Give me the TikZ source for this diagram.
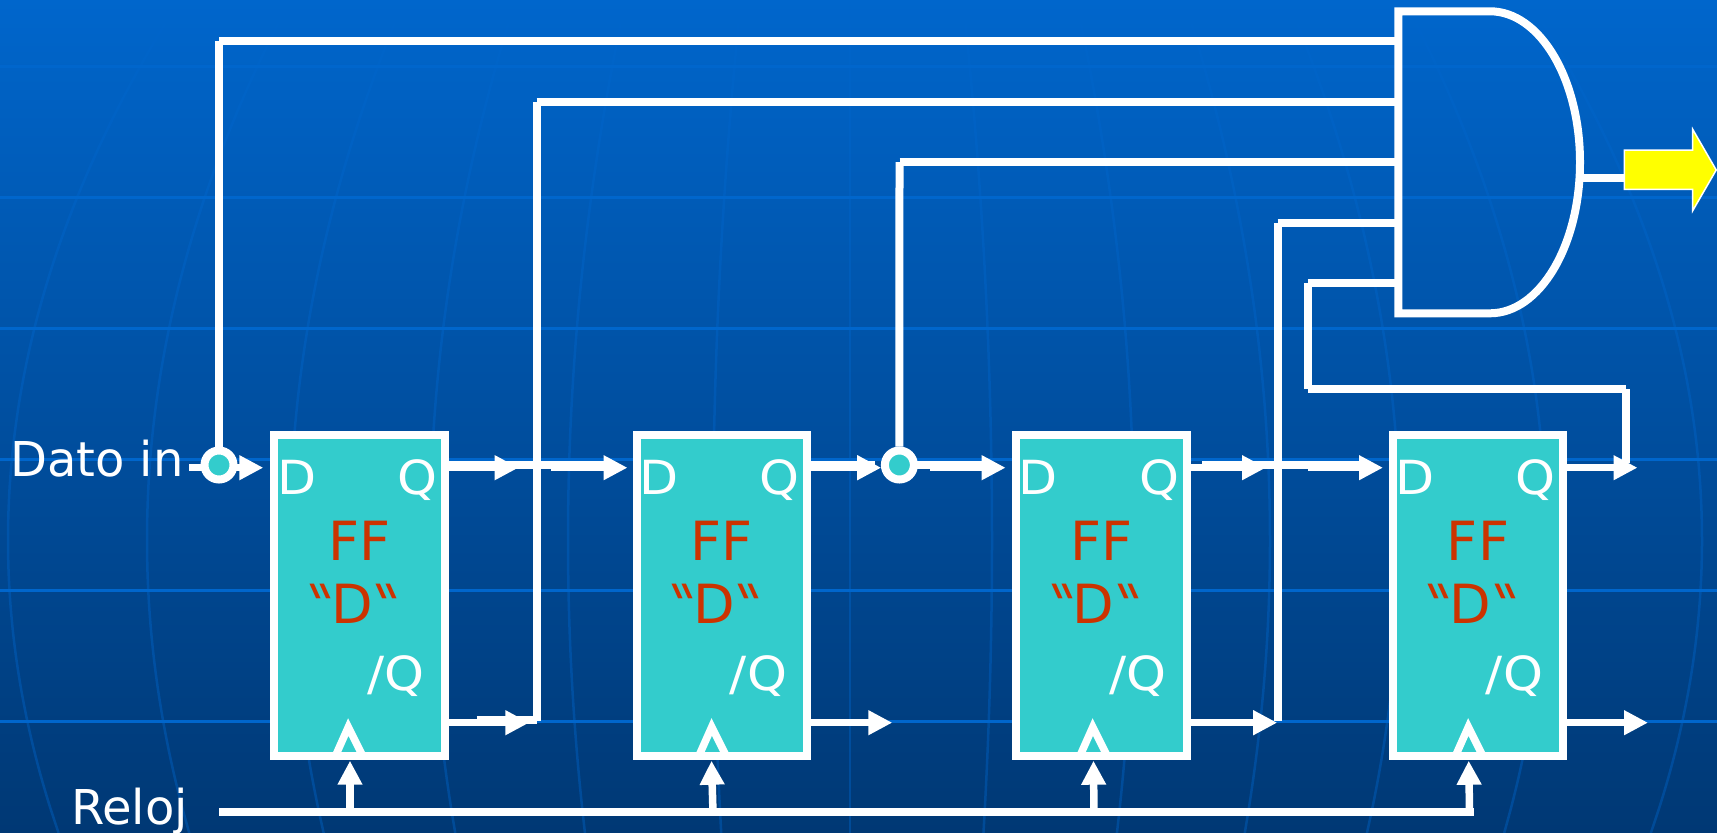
\documentclass[tikz,border=0pt]{standalone}
\usepackage{fontspec}
\setmainfont{DejaVu Sans}
\newfontfamily\pinfont[FakeStretch=1.08]{DejaVu Sans}
\newfontfamily\tickfont[FakeSlant=-0.45]{DejaVu Sans}
\newcommand{\tick}{\kern 16pt{\tickfont"}\kern -16pt}
\usetikzlibrary{arrows.meta}
\definecolor{topblue}{HTML}{0066CC}
\definecolor{midblue}{HTML}{0054A8}
\definecolor{lowblue}{HTML}{003874}
\definecolor{fftealcol}{HTML}{33CCCC}
\definecolor{ffredcol}{HTML}{CC3300}
\definecolor{outyellow}{RGB}{255,255,0}
\tikzset{
  wire/.style={draw=white,line width=8pt},
  wirearrow/.style={draw=white,fill=white,line width=7.5pt,-{Triangle[length=24pt,width=23.4pt]}},
  ffbox/.style={draw=white,fill=fftealcol,line width=8pt,minimum width=170.5pt,minimum height=321.3pt,inner sep=0pt},
  junct/.style={circle,draw=white,fill=fftealcol,line width=8pt,minimum size=29pt,inner sep=0pt},
  pin/.style={anchor=base west,inner sep=0pt,text=white,font=\fontsize{47}{50}\pinfont},
  txtlab/.style={anchor=base west,inner sep=0pt,text=white,font=\fontsize{48}{50}\selectfont},
  fftext/.style={anchor=base,inner sep=0pt,text=ffredcol,font=\fontsize{54}{56}\selectfont}
}
\begin{document}
\begin{tikzpicture}[x=1pt,y=-1pt]
\useasboundingbox (0,0) rectangle (1717,833);
\shade [top color=topblue,middle color=midblue,bottom color=lowblue] (0,0) rectangle (1717,833);
%
\foreach \yl in {66.7,197.3,328.3,459.3,590,721}
  \draw [topblue,line width=3pt] (0,\yl) -- (1717,\yl);
\foreach \xo in {8,147,290,430,568,713,850,992,1134,1270,1400,1546,1702}
  \draw [topblue,opacity=0.4,line width=2.5pt] plot [domain=0:833,samples=30,smooth] ({850+(\xo-850)*(1-0.175*((\x-540)/500)^2)},\x);
%
\foreach \i/\xa in {1/274.4,2/636.7,3/1016.2,4/1392.7} {
  \node [ffbox] (ff\i) at ({\xa+85.25},595.35) {};
  \node [pin] (d\i) at ({\xa+2.5},494.3) {D};
  \node [pin] (q\i) at ({\xa+123},494.3) {Q};
  \node [pin] (nq\i) at ({\xa+93},690) {/Q};
  \node [fftext] (ffa\i) at ({\xa+85.3},560) {FF};
  \node [fftext] (ffb\i) at ({\xa+77.5},623) {\tick D\tick};
  \coordinate (qo\i) at ({\xa+174.3},467.7);
  \coordinate (nqo\i) at ({\xa+174.3},722.7);
}
%
\node [txtlab] (datoin) at (10,476) {Dato in};
\node [txtlab] (reloj) at (71,824) {Reloj};
\node [junct] (j1) at (219,465) {};
\node [junct] (j2) at (899.4,465) {};
%
\coordinate (t1) at (219,41);
\coordinate (g1) at (1398.3,41);
\coordinate (e2) at (536.5,721);
\coordinate (t2) at (536.5,101.5);
\coordinate (g2) at (1398.3,101.5);
\coordinate (t3) at (899.5,162);
\coordinate (g3) at (1398.3,162);
\coordinate (e4) at (1277.5,721);
\coordinate (t4) at (1277.5,222.5);
\coordinate (g4) at (1398.3,222.5);
\coordinate (e5) at (1625.5,463);
\coordinate (c5) at (1625.5,389.2);
\coordinate (b5) at (1307.8,389.2);
\coordinate (t5) at (1307.8,283);
\coordinate (g5) at (1398.3,283);
%
\draw [wire] (j1.north) edge (t1);
\draw [wire] (t1) edge (g1);
\draw [wire] (e2) edge (t2);
\draw [wire] (t2) edge (g2);
\draw [wire] (j2.north) edge (t3);
\draw [wire] (t3) edge (g3);
\draw [wire] (e4) edge (t4);
\draw [wire] (t4) edge (g4);
\draw [wire] (e5) edge (c5);
\draw [wire] (c5) edge (b5);
\draw [wire] (b5) edge (t5);
\draw [wire] (t5) edge (g5);
%
\coordinate (din) at (189,467.7);
\coordinate (jin) at (205,467.7);
\coordinate (jout) at (236,467.7);
\coordinate (dtip) at (263.3,467.7);
\coordinate (b1a) at (449,464.7);
\coordinate (b1b) at (612,464.7);
\coordinate (a1) at (551,467.7);
\coordinate (tip1) at (518.6,467.7);
\coordinate (tip2) at (627.5,467.7);
\coordinate (b2a) at (811,464.7);
\coordinate (b2b) at (875,464.7);
\coordinate (tip3) at (881.2,467.7);
\coordinate (b3a) at (916,464.7);
\coordinate (b3b) at (990,464.7);
\coordinate (a3) at (930,467.7);
\coordinate (tip4) at (1005.6,467.7);
\coordinate (b5a) at (1202,464.7);
\coordinate (b5b) at (1368,464.7);
\coordinate (a5) at (1308,467.7);
\coordinate (tip5) at (1266,467.7);
\coordinate (tip6) at (1383,467.7);
\coordinate (tip7) at (1637.5,467.7);
%
\draw [wire,line width=7.5pt] (din) edge (jin);
\draw [wirearrow] (jout) -- (dtip);
\draw [wire] (b1a) edge (b1b);
\draw [wirearrow] (qo1) -- (tip1);
\draw [wirearrow] (a1) -- (tip2);
\draw [wire] (b2a) edge (b2b);
\draw [wirearrow] (qo2) -- (tip3);
\draw [wire] (b3a) edge (b3b);
\draw [wirearrow] (a3) -- (tip4);
\draw [wire] (b5a) edge (b5b);
\draw [wirearrow] (qo3) -- (tip5);
\draw [wirearrow] (a5) -- (tip6);
\draw [wirearrow] (qo4) -- (tip7);
%
\coordinate (s1) at (476.5,720);
\coordinate (s2) at (536.5,720);
\draw [wire] (s1) edge (s2);
\foreach \i/\xt in {1/529.3,2/892.3,3/1277.2,4/1648} {
  \coordinate (nqt\i) at (\xt,722.7);
  \draw [wirearrow] (nqo\i) -- (nqt\i);
}
%
\coordinate (rl) at (219,812.3);
\coordinate (rr) at (1473.7,812.3);
\draw [wire] (rl) edge (rr);
\foreach \i/\xs/\xt/\xk in {1/350/350/348.3,2/712.9/711.5/711.7,3/1093.9/1093.5/1092.8,4/1469.5/1468.7/1468.3} {
  \coordinate (ckb\i) at (\xs,809);
  \coordinate (ckt\i) at (\xt,760.7);
  \coordinate (ckl\i) at ({\xk-12},754);
  \coordinate (cka\i) at (\xk,727);
  \coordinate (ckr\i) at ({\xk+13.5},754);
  \draw [wirearrow] (ckb\i) -- (ckt\i);
  \draw [wire,line width=7.5pt] (ckl\i) -- (cka\i) -- (ckr\i);
}
%
\draw [wire] (1490,11.3) -- (1398.3,11.3) -- (1398.3,313.3) -- (1490,313.3) .. controls (1539.7,313.3) and (1580,245.7) .. (1580,162.3) .. controls (1580,78.9) and (1539.7,11.3) .. (1490,11.3);
%
\coordinate (gout) at (1583,177.5);
\coordinate (yin) at (1625,177.5);
\draw [wire] (gout) edge (yin);
\draw [draw=white,fill=outyellow,line width=1.5pt] (1624.3,150) -- (1692.7,150) -- (1692.7,129.3) -- (1716.2,170) -- (1692.7,210.7) -- (1692.7,189.3) -- (1624.3,189.3) -- cycle;
\end{tikzpicture}
\end{document}
